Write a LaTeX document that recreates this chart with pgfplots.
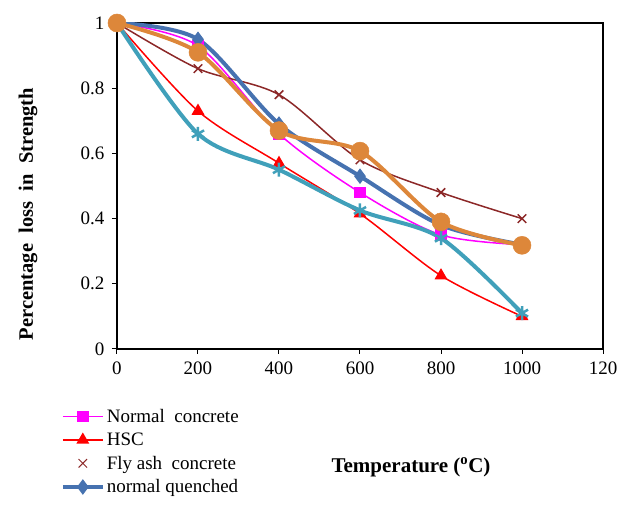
\documentclass[border=0pt]{standalone}
\usepackage{fontspec}
\setmainfont{Liberation Serif}
\usepackage{pgfplots}
\pgfplotsset{compat=1.18}
\definecolor{ncol}{RGB}{255,0,255}
\definecolor{hcol}{RGB}{255,0,0}
\definecolor{fcol}{RGB}{140,40,40}
\definecolor{bcol}{RGB}{70,114,176}
\definecolor{tcol}{RGB}{64,160,186}
\definecolor{ocol}{RGB}{221,135,58}
\pgfplotsset{
  linelegend/.style={legend image code/.code={\draw[##1] (0pt,0pt) -- (40pt,0pt); \draw[##1,only marks] plot coordinates {(20pt,0pt)};}},
  marklegend/.style={legend image code/.code={\draw[##1,only marks,line width=1pt] plot coordinates {(20pt,0pt)};}}
}
\begin{document}
\begin{tikzpicture}[x=1pt,y=1pt]
\useasboundingbox (-117,-156) rectangle (515,349);
\begin{axis}[
  scale only axis, width=486pt, height=326pt,
  xmin=0, xmax=1200, ymin=0, ymax=1,
  xtick={0,200,...,1200}, ytick={0,0.2,0.4,0.6,0.8,1},
  xticklabels={0,200,400,600,800,1000,120},
  yticklabels={0,0.2,0.4,0.6,0.8,1},
  tick align=outside, xtick pos=bottom, ytick pos=left,
  major tick length=5pt,
  /pgf/number format/assume math mode=true,
  tick label style={font=\fontsize{19}{21}\selectfont},
  xticklabel style={yshift=-4pt},
  yticklabel style={xshift=-4pt},
  axis line style={line width=1.2pt},
  tick style={black, line width=1pt},
  xlabel={\textbf{Temperature (\textsuperscript{o}C)}},
  xlabel style={at={(axis description cs:0.605,-0.362)}, anchor=center, font=\fontsize{21}{24}\selectfont},
  ylabel={\textbf{Percentage\ \ loss\ \ in\ \ Strength}},
  ylabel style={at={(axis description cs:-0.183,0.414)}, anchor=center, font=\fontsize{20.5}{24}\selectfont},
  legend style={at={(axis description cs:-0.116,-0.178)}, anchor=north west, draw=none, fill=none,
    font=\fontsize{19}{21}\selectfont, row sep=5pt, inner sep=0pt},
  legend cell align=left,
  linelegend,
]
\addplot[ncol, line width=1.5pt, smooth, mark=square*, mark size=5pt, mark options={solid}] coordinates {(0,1) (200,0.93) (400,0.66) (600,0.48) (800,0.35) (1000,0.32)};
\addlegendentry{Normal\ \ concrete}
\addplot[hcol, line width=1.5pt, smooth, mark=triangle*, mark size=6pt] coordinates {(0,1) (200,0.73) (400,0.57) (600,0.415) (800,0.225) (1000,0.10)};
\addlegendentry{HSC}
\addplot[fcol, line width=1.5pt, smooth, mark=x, mark size=6pt, marklegend] coordinates {(0,1) (200,0.86) (400,0.78) (600,0.58) (800,0.48) (1000,0.40)};
\addlegendentry{Fly ash\ \ concrete}
\addplot[bcol, line width=4pt, smooth, mark=diamond*, mark size=7pt, mark options={line width=1pt}] coordinates {(0,1) (200,0.95) (400,0.69) (600,0.53) (800,0.38) (1000,0.32)};
\addlegendentry{normal quenched}
\addplot[tcol, line width=4pt, smooth, mark=asterisk, mark size=7pt, mark options={line width=2.5pt}, forget plot] coordinates {(0,1) (200,0.66) (400,0.55) (600,0.425) (800,0.34) (1000,0.11)};
\addplot[ocol, line width=4pt, smooth, mark=*, mark size=9pt, mark options={line width=0.5pt}, forget plot] coordinates {(0,1) (200,0.91) (400,0.67) (600,0.607) (800,0.39) (1000,0.318)};
\end{axis}
\end{tikzpicture}
\end{document}
